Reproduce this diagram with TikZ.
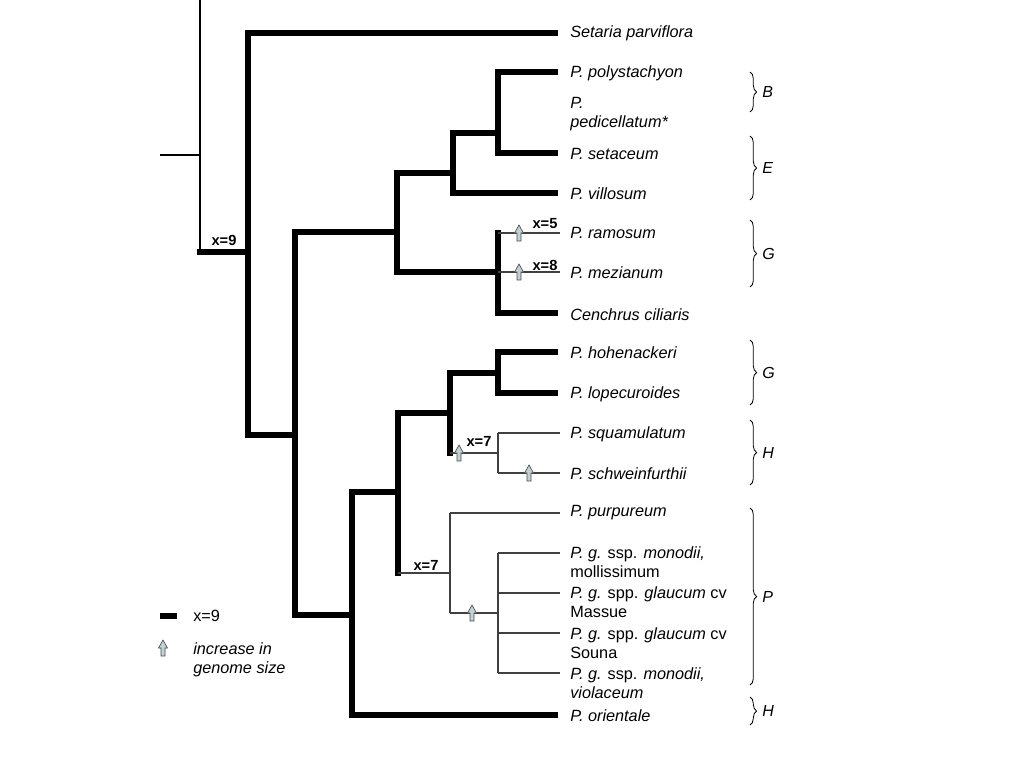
\documentclass[tikz,border=0pt]{standalone}
\usepackage{fontspec}
\setmainfont{Liberation Sans}
\usetikzlibrary{decorations.pathreplacing}
\begin{document}
\begin{tikzpicture}[x=0.75pt,y=-0.75pt,
  thk/.style={line width=4.5pt,line cap=rect},
  thn/.style={line width=0.8pt,draw=black!75},
  lab/.style={anchor=west,inner sep=0pt,align=left,font=\fontsize{12.2}{14.5}\selectfont\itshape},
  xl/.style={inner sep=0pt,font=\fontsize{11}{12}\selectfont\bfseries},
  brc/.style={decorate,decoration={brace,amplitude=5pt},line width=0.6pt},
  bl/.style={inner sep=0pt,anchor=west,font=\fontsize{12}{13}\selectfont\itshape},
  gup/.pic={\draw[line width=0.5pt,draw=black!70,fill=blue!25!cyan!20!gray!40] (-2,8)--(-2,0)--(-4.5,0)--(0,-8)--(4.5,0)--(2,0)--(2,8)--cycle;}]
\useasboundingbox (0,0) rectangle (1024,768);
\coordinate (r0) at (160,155); \coordinate (r1) at (200,155);
\coordinate (rt) at (200,0); \coordinate (r2) at (200,252); \coordinate (n1) at (248,252);
\coordinate (n1t) at (248,33); \coordinate (n1b) at (248,435); \coordinate (n2) at (295,435);
\coordinate (n2t) at (295,232); \coordinate (n2b) at (295,615);
\coordinate (n3) at (397,232); \coordinate (n3t) at (397,173); \coordinate (n3b) at (397,272);
\coordinate (n4) at (453,173); \coordinate (n4t) at (453,133); \coordinate (n4b) at (453,193);
\coordinate (n5) at (498,133); \coordinate (n5t) at (498,72); \coordinate (n5b) at (498,153);
\coordinate (n6) at (498,272); \coordinate (n6t) at (498,233); \coordinate (n6b) at (498,313);
\coordinate (m1) at (352,615); \coordinate (m1t) at (352,492); \coordinate (m1b) at (352,715);
\coordinate (m2) at (398,492); \coordinate (m2t) at (398,413); \coordinate (m2b) at (398,573);
\coordinate (m3) at (450,413); \coordinate (m3t) at (450,373); \coordinate (m3b) at (450,453);
\coordinate (m4) at (498,373); \coordinate (m4t) at (498,352); \coordinate (m4b) at (498,393);
\coordinate (m5) at (498,453); \coordinate (m5t) at (498,433); \coordinate (m5b) at (498,473);
\coordinate (p1) at (450,573); \coordinate (p1t) at (450,513); \coordinate (p1b) at (450,613);
\coordinate (p2) at (498,613); \coordinate (p2t) at (498,553); \coordinate (p2b) at (498,673);
\coordinate (p3) at (498,593); \coordinate (p4) at (498,633);
\node[lab] (setaria) at (570,33) {Setaria parviflora};
\node[lab] (poly) at (570,73) {P. polystachyon};
\node[lab] (pedi) at (570,114) {P.\\pedicellatum*};
\node[lab] (seta) at (570,154) {P. setaceum};
\node[lab] (vill) at (570,194) {P. villosum};
\node[lab] (ramo) at (570,233) {P. ramosum};
\node[lab] (mezi) at (570,273) {P. mezianum};
\node[lab] (cenc) at (570,315) {Cenchrus ciliaris};
\node[lab] (hohe) at (570,353) {P. hohenackeri};
\node[lab] (lope) at (570,394) {P. lopecuroides};
\node[lab] (squa) at (570,434) {P. squamulatum};
\node[lab] (schw) at (570,474) {P. schweinfurthii};
\node[lab] (purp) at (570,513) {P. purpureum};
\node[lab] (mol) at (570,562) {P. g. \upshape ssp. \itshape monodii,\\\upshape mollissimum};
\node[lab] (mas) at (570,602) {P. g. \upshape spp. \itshape glaucum \upshape cv\\\upshape Massue};
\node[lab] (sou) at (570,643) {P. g. \upshape spp. \itshape glaucum \upshape cv\\\upshape Souna};
\node[lab] (vio) at (570,683) {P. g. \upshape ssp. \itshape monodii,\\violaceum};
\node[lab] (orie) at (570,716) {P. orientale};
\draw[thn,black] (r0)--(r1); \draw[thn,black] (rt)--(r2);
\draw[thk] (r2)--(n1); \draw[thk] (n1t)--(n1b); \draw[thk] (n1t)--(555,33);
\draw[thk] (n1b)--(n2); \draw[thk] (n2t)--(n2b);
\draw[thk] (n2t)--(n3); \draw[thk] (n3t)--(n3b);
\draw[thk] (n3t)--(n4); \draw[thk] (n4t)--(n4b); \draw[thk] (n4b)--(555,193);
\draw[thk] (n4t)--(n5); \draw[thk] (n5t)--(n5b); \draw[thk] (n5t)--(555,72); \draw[thk] (n5b)--(555,153);
\draw[thk] (n3b)--(n6); \draw[thk] (n6t)--(n6b); \draw[thk] (n6b)--(555,313);
\draw[thn] (n6t)--(560,233); \draw[thn] (n6)--(560,272);
\draw[thk] (n2b)--(m1); \draw[thk] (m1t)--(m1b); \draw[thk] (m1b)--(555,715);
\draw[thk] (m1t)--(m2); \draw[thk] (m2t)--(m2b);
\draw[thk] (m2t)--(m3); \draw[thk] (m3t)--(m3b);
\draw[thk] (m3t)--(m4); \draw[thk] (m4t)--(m4b); \draw[thk] (m4t)--(555,352); \draw[thk] (m4b)--(555,393);
\draw[thn] (m3b)--(m5); \draw[thn] (m5t)--(m5b); \draw[thn] (m5t)--(560,433); \draw[thn] (m5b)--(560,473);
\draw[thn] (m2b)--(p1); \draw[thn] (p1t)--(p1b); \draw[thn] (p1t)--(560,513);
\draw[thn] (p1b)--(p2); \draw[thn] (p2t)--(p2b);
\draw[thn] (p2t)--(560,553); \draw[thn] (p3)--(560,593); \draw[thn] (p4)--(560,633); \draw[thn] (p2b)--(560,673);
\pic at (519,233) {gup}; \pic at (519,272) {gup};
\pic at (459,453) {gup}; \pic at (529,473) {gup}; \pic at (472,613) {gup};
\node[xl] (x9) at (224,240) {x=9};
\node[xl] (x5) at (545,224) {x=5};
\node[xl] (x8) at (545,265) {x=8};
\node[xl] (x7a) at (479,441) {x=7};
\node[xl] (x7b) at (426,565) {x=7};
\draw[brc] (750,72)--(750,112) node[bl,midway,xshift=9pt] {B};
\draw[brc] (750,136)--(750,200) node[bl,midway,xshift=9pt] {E};
\draw[brc] (750,220)--(750,287) node[bl,midway,xshift=9pt] {G};
\draw[brc] (750,340)--(750,405) node[bl,midway,xshift=9pt] {G};
\draw[brc] (750,420)--(750,485) node[bl,midway,xshift=9pt] {H};
\draw[brc] (750,508)--(750,685) node[bl,midway,xshift=9pt] {P};
\draw[brc] (750,697)--(750,725) node[bl,midway,xshift=9pt] {H};
\draw[thk,line cap=butt] (160,616)--(177,616);
\node[anchor=west,inner sep=0pt,font=\fontsize{12.2}{14}\selectfont] (lx) at (193,616) {x=9};
\pic at (163,648) {gup};
\node[lab] (lg) at (193,660) {increase in\\genome size};
\end{tikzpicture}
\end{document}
